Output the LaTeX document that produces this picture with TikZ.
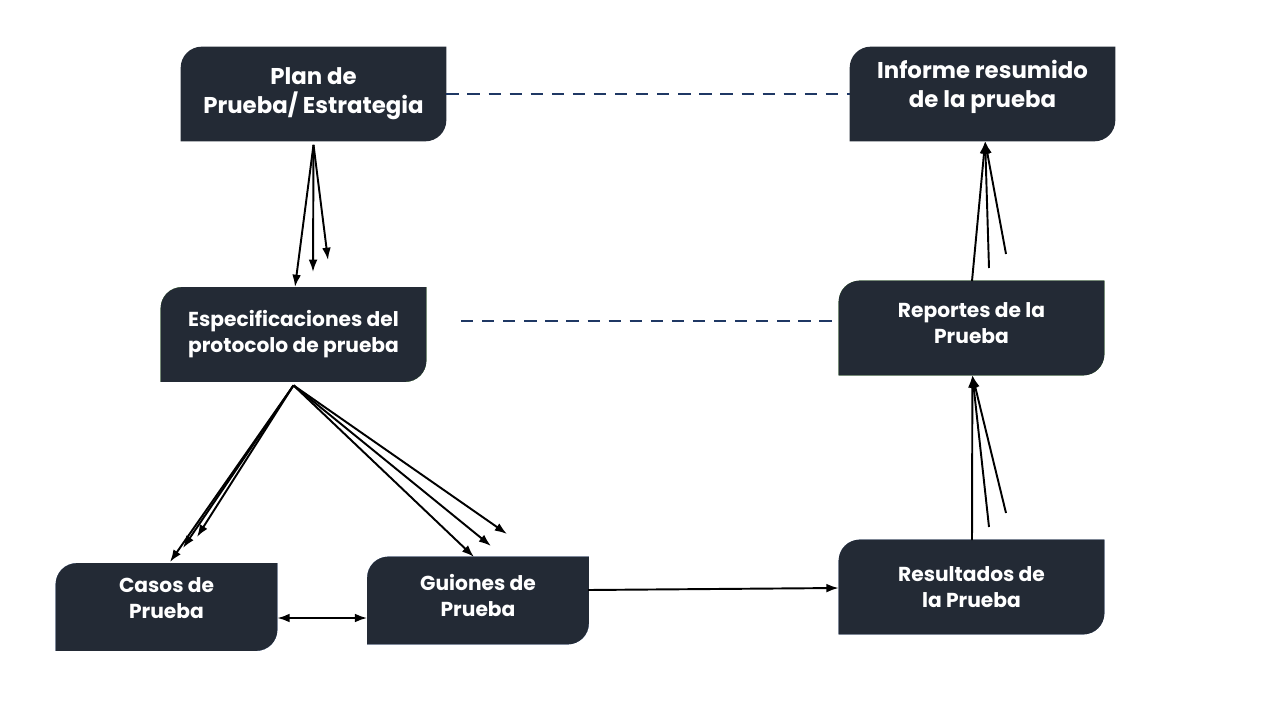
\documentclass[tikz,border=0pt]{standalone}
\usepackage{fontspec}
\setmainfont{Poppins}
\usetikzlibrary{arrows.meta, positioning, calc}
\definecolor{darkbox}{HTML}{232A35}
\definecolor{navy}{HTML}{1F3864}
\definecolor{leafgreen}{HTML}{92D050}
\definecolor{paleblue}{HTML}{B4C7E7}
\definecolor{greyblue}{HTML}{ADB9CA}
% leaf shaped fill behind a node: #1 node, #2 colour, #3 shift
\newcommand{\Leaf}[3]{%
  \fill[#2, shift={(#3)}] (#1.south west) [rounded corners=12] -- (#1.north west)
    [sharp corners] -- (#1.north east) [rounded corners=12] -- (#1.south east)
    [sharp corners] -- cycle;}
\tikzset{
    box/.style={inner sep=0pt, align=center, text=white,
      font=\fontsize{11.5}{14.8}\selectfont\bfseries},
    big/.style={box, minimum width=5.3cm, minimum height=1.88cm},
    small/.style={box, minimum width=4.42cm, minimum height=1.74cm},
    headbox/.style={big, font=\fontsize{13}{16.5}\selectfont\bfseries},
    link/.style={-{Latex[length=7pt,width=5pt]}, line width=1.1pt},
    twin/.style={{Latex[length=7pt,width=5pt]}-{Latex[length=7pt,width=5pt]}, line width=1.1pt},
    dashlink/.style={navy, line width=1.4pt, dash pattern=on 7pt off 5pt},
}
\begin{document}
\begin{tikzpicture}[x=0.02cm, y=-0.02cm]
    \useasboundingbox (0,0) rectangle (1280,720);

    \node[big] (plan) at (313.5,94) {};
    \node[big] (inf) at (982.5,94) {};
    \node[big] (esp) at (293.5,334.5) {};
    \node[big] (rep) at (971.5,328) {};
    \node[big] (res) at (971.5,587) {};
    \node[small] (cas) at (166.5,607) {};
    \node[small] (gui) at (478,600.5) {};

    \Leaf{esp}{navy}{35,-28}  \Leaf{esp}{leafgreen}{17,-14}
    \Leaf{rep}{navy}{35,-27}  \Leaf{rep}{leafgreen}{18,-13}
    \Leaf{res}{navy}{35,-27}  \Leaf{res}{greyblue}{18,-13}
    \Leaf{cas}{navy}{30,-24}  \Leaf{cas}{paleblue}{16,-14}
    \Leaf{gui}{navy}{30,-24}  \Leaf{gui}{paleblue}{16,-11}
    \Leaf{plan}{darkbox}{0,0} \Leaf{inf}{darkbox}{0,0}
    \Leaf{esp}{darkbox}{0,0}  \Leaf{rep}{darkbox}{0,0}
    \Leaf{res}{darkbox}{0,0}  \Leaf{cas}{darkbox}{0,0}
    \Leaf{gui}{darkbox}{0,0}

    \node[headbox] at (plan) {Plan de\\Prueba/ Estrategia};
    \node[headbox] at ([yshift=4]inf.center) {Informe resumido\\de la prueba};
    \node[big] at (esp) {Especificaciones del\\protocolo de prueba};
    \node[big] at ([yshift=3]rep.center) {Reportes de la\\Prueba};
    \node[big] at (res) {Resultados de\\la Prueba};
    \node[small] at ([yshift=5]cas.center) {Casos de\\Prueba};
    \node[small] at ([yshift=3]gui.center) {Guiones de\\Prueba};

    \coordinate (pb) at ([yshift=-2]plan.south);
    \coordinate (eb) at ([yshift=-2]esp.south);
    \draw[link] (pb) -- (295,287);
    \draw[link] (pb) -- (313,272);
    \draw[link] (pb) -- (328,260);

    \draw[link] (eb) -- (170,562);
    \draw[link] (eb) -- (183,548);
    \draw[link] (eb) -- (197,537);
    \draw[link] (eb) -- (474,557);
    \draw[link] (eb) -- (491,546);
    \draw[link] (eb) -- (507,534);

    \draw[twin] (cas.east |- 0,618) -- (gui.west |- 0,618);
    \draw[link] (588,590) -- (res.west |- 0,588);

    \coordinate (rt) at ([xshift=0.5]rep.south);
    \draw[link] (972,540) -- (rt);
    \draw[link] (989,527) -- (rt);
    \draw[link] (1006,513) -- (rt);

    \coordinate (it) at ([xshift=1.5]inf.south);
    \draw[link] (972,281) -- (it);
    \draw[link] (989,268) -- (it);
    \draw[link] (1006,254) -- (it);

    \draw[dashlink] (plan.east) -- (inf.west);
    \draw[dashlink] (461,321) -- (rep.west |- 0,321);
\end{tikzpicture}
\end{document}
